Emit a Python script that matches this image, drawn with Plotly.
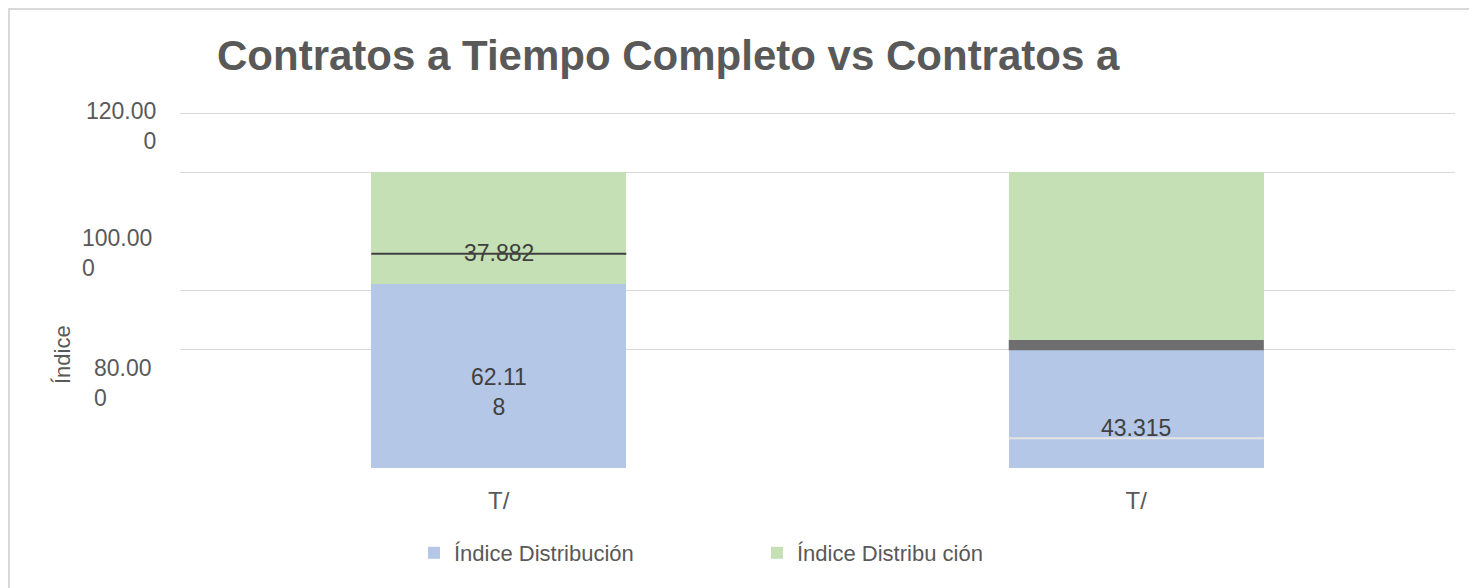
import plotly.graph_objects as go

categories = ["T/", "T/"]
blue_vals = [62.118, 43.315]
green_vals = [37.882, 56.685]
blue_labels = ["62.11<br>8", "43.315"]
green_labels = ["37.882", ""]
series_names = ["Índice Distribución", "Índice Distribu ción"]
grid_vals = [0, 40, 60, 100, 120]
ytick_text = ["120.00<br>0", "100.00<br>0", "80.00<br>0"]
ytick_pos = [115.6, 72.8, 28.6]

blue = "#B4C7E7"
green = "#C5E0B4"
grey_text = "#595959"
font = "Liberation Sans, Arial, sans-serif"

# the page body adds an 8px offset, so the figure is 8px smaller and the
# plot area still lands at x 180..1455, y 112..468 on screen
xs = list(range(len(categories)))
fig = go.Figure()
fig.add_trace(go.Bar(x=xs, y=blue_vals, name=series_names[0], marker_color=blue,
                     width=0.4, marker_line_width=0, hoverinfo="skip"))
fig.add_trace(go.Bar(x=xs, y=green_vals, name=series_names[1], marker_color=green,
                     width=0.4, marker_line_width=0, hoverinfo="skip"))

# data labels, sitting a bit below the segment centres like in the original
for i in xs:
    fig.add_annotation(x=i, y=blue_vals[i] / 2, text=blue_labels[i], showarrow=False,
                       yshift=-16 if i == 0 else -24,
                       font=dict(size=23, color="#404040", family=font))
    if green_labels[i]:
        fig.add_annotation(x=i, y=blue_vals[i] + green_vals[i] / 2, text=green_labels[i],
                           showarrow=False, yshift=-25,
                           font=dict(size=23, color="#404040", family=font))

# odd looking rendering artifacts of the source chart
fig.add_shape(type="line", x0=-0.2, x1=0.2, y0=72.5, y1=72.5, line=dict(color="#404040", width=2))
fig.add_shape(type="rect", x0=0.8, x1=1.2, y0=39.8, y1=43.3, fillcolor="#6e6e6e", line_width=0)
fig.add_shape(type="line", x0=0.8, x1=1.2, y0=10.1, y1=10.1, line=dict(color="#e4e4e4", width=2))

# y tick labels (broken across two lines in the source)
aligns = ["right", "left", "left"]
xpix = [158, 80, 92]
for t, p, a, xp in zip(ytick_text, ytick_pos, aligns, xpix):
    fig.add_annotation(xref="paper", yref="y", x=(xp - 180) / 1275, y=p, text=t,
                       showarrow=False, align=a, xanchor=a,
                       font=dict(size=23, color=grey_text, family=font))

fig.add_annotation(xref="paper", yref="paper", x=(62 - 180) / 1275, y=(468 - 355) / 356,
                   yanchor="middle", xanchor="center",
                   text="Índice", textangle=-90, showarrow=False,
                   font=dict(size=22, color=grey_text, family=font))

# outer chart border
fig.add_shape(type="rect", xref="paper", yref="paper",
              x0=(9 - 180) / 1275, x1=(1490 - 180) / 1275,
              y0=(468 - 600) / 356, y1=(468 - 9) / 356,
              line=dict(color="#d9d9d9", width=2), layer="below")

fig.update_layout(
    barmode="stack",
    width=1469, height=580,
    margin=dict(l=172, r=22, t=104, b=120),
    paper_bgcolor="white", plot_bgcolor="white",
    font=dict(family=font, color=grey_text),
    title=dict(text="<b>Contratos a Tiempo Completo vs Contratos a</b>",
               x=(217 - 180) / 1275, xref="paper", xanchor="left",
               y=1 - 47 / 580, yanchor="middle",
               font=dict(size=42, color=grey_text, family=font)),
    showlegend=True,
    legend=dict(orientation="h", traceorder="normal",
                x=(414 - 180) / 1275, xanchor="left",
                y=(468 - 553) / 356, yanchor="middle", entrywidth=298,
                font=dict(size=22, color=grey_text, family=font)),
    xaxis=dict(tickvals=xs, ticktext=categories, range=[-0.5, 1.5],
               showgrid=False, zeroline=False, showline=False, ticks="",
               ticklabelstandoff=16,
               tickfont=dict(size=24, color=grey_text, family=font)),
    yaxis=dict(range=[0, 120.4], tickvals=grid_vals, showticklabels=False,
               showgrid=True, gridcolor="#d9d9d9", gridwidth=1.3,
               zeroline=False, showline=False),
)

fig.write_html("out.html")
